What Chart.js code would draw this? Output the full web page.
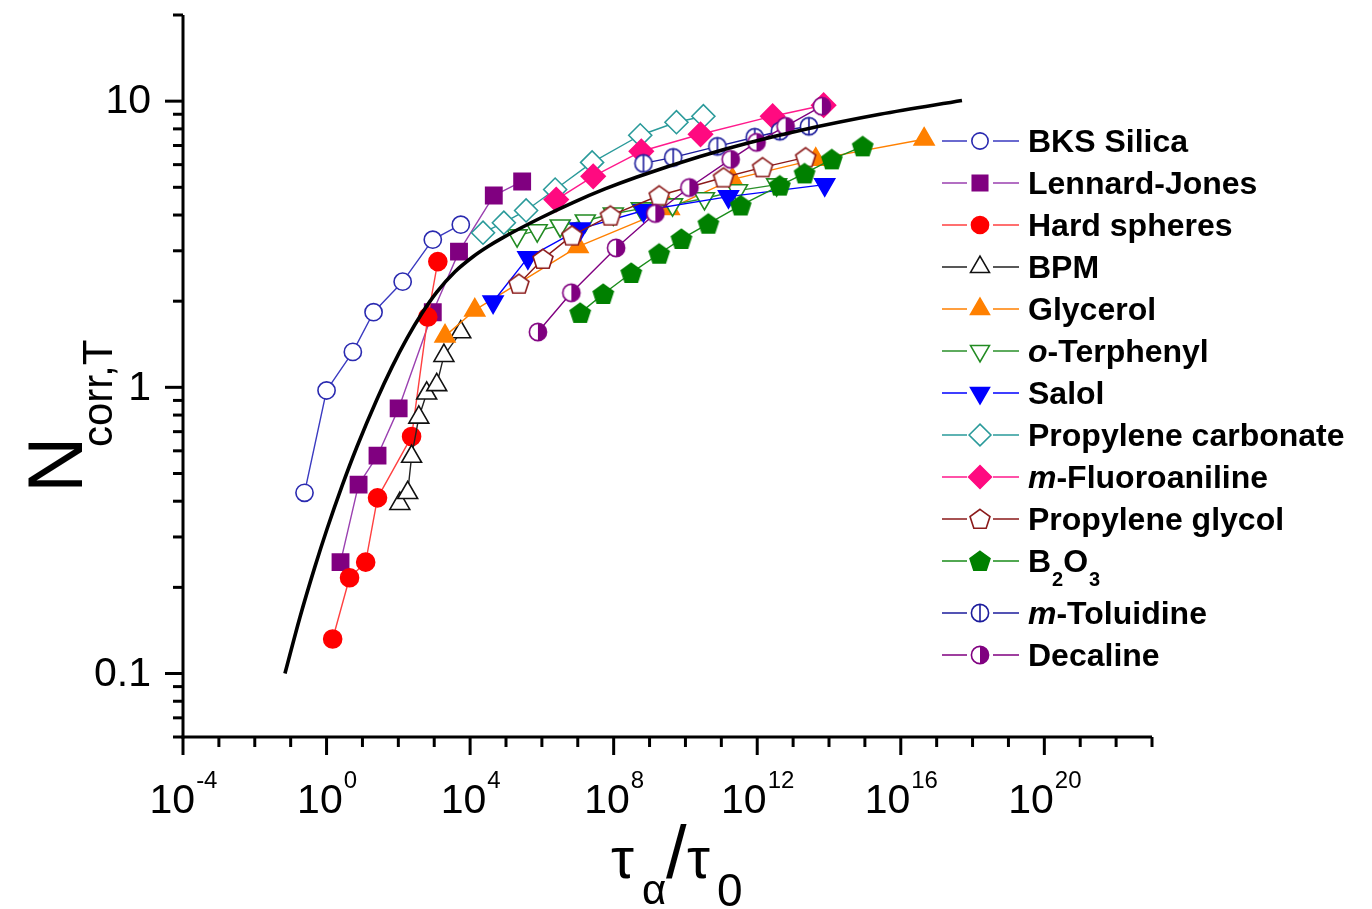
<!DOCTYPE html>
<html><head><meta charset="utf-8">
<script src="https://cdn.jsdelivr.net/npm/chart.js@4.4.0/dist/chart.umd.min.js"></script>
<style>html,body{margin:0;padding:0;background:#fff;}#wrap{width:1372px;height:909px;position:relative;}</style>
</head><body><div id="wrap"><canvas id="c" width="1372" height="909"></canvas></div>
<script>
// ---------------- data ----------------
const bksX = [0.243, 1.0, 5.4, 20.4, 132, 912, 5500];
const bksY = [0.428, 0.975, 1.33, 1.83, 2.34, 3.28, 3.70];
const ljX = [2.45, 7.8, 26.3, 102, 912, 4900, 4.57e4, 2.82e5];
const ljY = [0.245, 0.457, 0.577, 0.844, 1.83, 2.98, 4.68, 5.24];
const hsX = [1.48, 4.37, 12.3, 26.3, 234, 661, 1260];
const hsY = [0.132, 0.216, 0.245, 0.411, 0.673, 1.76, 2.75];
const bpmX = [110, 182, 234, 372, 617, 1175, 1862, 5500];
const bpmY = [0.392, 0.428, 0.573, 0.785, 0.953, 1.02, 1.29, 1.56];
const glyX = [2000, 1.35e4, 1.02e7, 3.55e9, 2.04e11, 4.27e13, 4.47e16];
const glyY = [1.51, 1.86, 3.10, 4.21, 5.33, 6.26, 7.36];
const otpX = [2.04e5, 7.41e5, 3.24e6, 1.62e7, 9.77e7, 5.89e8, 4.37e9, 3.39e10, 2.82e11, 3.47e12];
const otpY = [3.39, 3.53, 3.67, 3.82, 4.04, 4.21, 4.35, 4.57, 4.87, 5.11];
const salX = [4.37e4, 4.07e5, 1.17e7, 6.76e8, 1.58e11, 7.59e13];
const salY = [1.99, 2.84, 3.58, 4.15, 4.64, 5.11];
const pcX = [2.29e4, 8.71e4, 3.63e5, 2.34e6, 2.51e7, 5.50e8, 5.62e9, 3.16e10];
const pcY = [3.47, 3.76, 4.15, 4.91, 6.11, 7.60, 8.44, 8.86];
const mfX = [2.51e6, 2.69e7, 5.89e8, 2.63e10, 2.69e12, 7.08e13];
const mfY = [4.53, 5.46, 6.68, 7.66, 8.86, 9.68];
const pgX = [2.29e5, 1.07e6, 6.92e6, 8.13e7, 1.86e9, 1.15e11, 1.41e12, 2.24e13];
const pgY = [2.30, 2.81, 3.39, 3.98, 4.68, 5.41, 5.87, 6.36];
const b2o3X = [1.17e7, 5.13e7, 3.09e8, 1.86e9, 7.76e9, 4.37e10, 3.47e11, 4.27e12, 2.09e13, 1.20e14, 8.71e14];
const b2o3Y = [1.82, 2.12, 2.51, 2.93, 3.30, 3.73, 4.32, 5.07, 5.59, 6.26, 6.95];
const mtX = [6.76e8, 4.57e9, 7.76e10, 8.51e11, 4.27e12, 2.75e13];
const mtY = [6.06, 6.36, 6.95, 7.48, 7.85, 8.17];
const decX = [7.76e5, 6.61e6, 1.17e8, 1.45e9, 1.29e10, 1.82e11, 9.55e11, 6.17e12, 6.31e13];
const decY = [1.56, 2.14, 3.07, 4.05, 4.99, 6.26, 7.18, 8.17, 9.60];
const curveX = [0.0693, 0.1815, 0.475, 1.026, 2.69, 7.03, 25.4, 66.4, 173.8, 455, 1191, 3784, 1.20e4, 3.14e4, 8.22e4, 8.83e5, 7.35e6, 5.72e7, 4.46e8, 2.54e10, 6.27e11, 1.55e13, 2.63e15, 5.07e17];
const curveY = [0.100, 0.1573, 0.2363, 0.3192, 0.4516, 0.6201, 0.9087, 1.1766, 1.4823, 1.8139, 2.155, 2.535, 2.860, 3.105, 3.336, 3.898, 4.423, 4.935, 5.435, 6.410, 7.175, 7.903, 9.00, 10.05];

const xTickExponents = [-4, 0, 4, 8, 12, 16, 20];
const yTickValues = [0.1, 1, 10];
const yTickLabels = ['0.1', '1', '10'];

// ---------------- marker images ----------------
function makeCanvas(s){const c=document.createElement('canvas');c.width=s;c.height=s;return c;}
function pentagon(fill, stroke){
  const c=makeCanvas(24), g=c.getContext('2d'); const r=10.5, cx=12, cy=12.8;
  g.beginPath();
  for(let i=0;i<5;i++){const a=-Math.PI/2+i*2*Math.PI/5; const px=cx+r*Math.cos(a), py=cy+r*Math.sin(a); i?g.lineTo(px,py):g.moveTo(px,py);}
  g.closePath(); g.fillStyle=fill; g.fill(); g.lineWidth=1.6; g.strokeStyle=stroke; g.stroke(); return c;
}
function halfCircle(col){
  const c=makeCanvas(22), g=c.getContext('2d'); const r=8.6;
  g.beginPath(); g.arc(11,11,r,0,2*Math.PI); g.fillStyle='#fff'; g.fill();
  g.beginPath(); g.arc(11,11,r,-Math.PI/2,Math.PI/2); g.closePath(); g.fillStyle=col; g.fill();
  g.beginPath(); g.arc(11,11,r,0,2*Math.PI); g.lineWidth=1.6; g.strokeStyle=col; g.stroke(); return c;
}
function barCircle(col){
  const c=makeCanvas(22), g=c.getContext('2d'); const r=8.6;
  g.beginPath(); g.arc(11,11,r,0,2*Math.PI); g.fillStyle='#fff'; g.fill(); g.lineWidth=1.6; g.strokeStyle=col; g.stroke();
  g.beginPath(); g.moveTo(11,11-r); g.lineTo(11,11+r); g.stroke(); return c;
}

function pts(xs, ys){return xs.map((v,i)=>({x:v,y:ys[i]}));}

const series = [
  {label:'BKS Silica', x:bksX, y:bksY, line:'#3a3ac0', border:'#2a2ab0', bg:'#fff', style:'circle', r:8.6},
  {label:'Lennard-Jones', x:ljX, y:ljY, line:'#9a40b0', border:'#800080', bg:'#800080', style:'rect', r:11.5},
  {label:'Hard spheres', x:hsX, y:hsY, line:'#ff4040', border:'#ff0000', bg:'#ff0000', style:'circle', r:9},
  {label:'BPM', x:bpmX, y:bpmY, line:'#222', border:'#111', bg:'#fff', style:'triangle', r:11.5},
  {label:'Glycerol', x:glyX, y:glyY, line:'#ff8000', border:'#ff8000', bg:'#ff8000', style:'triangle', r:11.5},
  {label:'o-Terphenyl', x:otpX, y:otpY, line:'#2a902a', border:'#228b22', bg:'#fff', style:'triangle', r:11.5, rot:180},
  {label:'Salol', x:salX, y:salY, line:'#0000ff', border:'#0000ff', bg:'#0000ff', style:'triangle', r:11.5, rot:180},
  {label:'Propylene carbonate', x:pcX, y:pcY, line:'#2a9a9a', border:'#2a9a9a', bg:'#fff', style:'rectRot', r:11.5},
  {label:'m-Fluoroaniline', x:mfX, y:mfY, line:'#ff1a8c', border:'#ff0a80', bg:'#ff0a80', style:'rectRot', r:12},
  {label:'Propylene glycol', x:pgX, y:pgY, line:'#8b1a1a', border:'#8b1a1a', bg:'#fff', style:pentagon('#fff','#8b1a1a')},
  {label:'B2O3', x:b2o3X, y:b2o3Y, line:'#1a8c1a', border:'#008000', bg:'#008000', style:pentagon('#008000','#008000')},
  {label:'m-Toluidine', x:mtX, y:mtY, line:'#1c1c9c', border:'#1c1c9c', bg:'#fff', style:barCircle('#1c1c9c')},
  {label:'Decaline', x:decX, y:decY, line:'#800080', border:'#800080', bg:'#800080', style:halfCircle('#800080')}
];

const N = series.length;
const datasets = series.map((s,i)=>({
  label:s.label, data:pts(s.x,s.y), borderColor:s.line, borderWidth:1.4,
  pointStyle:s.style, pointRadius:s.r||10, pointHoverRadius:s.r||10, pointRotation:s.rot||0,
  pointBackgroundColor:s.bg, pointBorderColor:s.border, pointBorderWidth:1.6,
  showLine:true, fill:false, tension:0, order:N-i+1
}));
datasets.push({label:'model', data:pts(curveX,curveY), borderColor:'#000', borderWidth:3.6,
  pointRadius:0, showLine:true, fill:false, cubicInterpolationMode:'monotone', order:0});

const F = '"Liberation Sans", Arial, sans-serif';

const decor = {
  id:'decor',
  afterDraw(chart){
    const ctx=chart.ctx, a=chart.chartArea, xs=chart.scales.x, ys=chart.scales.y;
    ctx.save();
    ctx.strokeStyle='#000'; ctx.fillStyle='#000'; ctx.lineWidth=3; ctx.lineCap='butt';
    // axis lines
    ctx.beginPath(); ctx.moveTo(a.left, a.top); ctx.lineTo(a.left, a.bottom+1.5); ctx.stroke();
    ctx.beginPath(); ctx.moveTo(a.left-1.5, a.bottom); ctx.lineTo(a.right, a.bottom); ctx.stroke();
    // x ticks (every decade)
    const eMin=Math.round(Math.log10(xs.min)), eMax=Math.round(Math.log10(xs.max));
    for(let e=eMin;e<=eMax;e++){
      const px=xs.getPixelForValue(Math.pow(10,e)); const major=xTickExponents.includes(e);
      ctx.beginPath(); ctx.moveTo(px,a.bottom); ctx.lineTo(px,a.bottom+(major?18:10)); ctx.stroke();
    }
    // y ticks
    const dMin=Math.floor(Math.log10(ys.min)), dMax=Math.ceil(Math.log10(ys.max));
    for(let d=dMin; d<=dMax; d++){
      for(let m=1;m<=9;m++){
        const v=m*Math.pow(10,d); if(v<ys.min*0.999||v>ys.max*1.001) continue;
        const py=ys.getPixelForValue(v); const major=(m===1);
        ctx.beginPath(); ctx.moveTo(a.left,py); ctx.lineTo(a.left-(major?18:10),py); ctx.stroke();
      }
    }
    // y labels
    ctx.font='41px '+F; ctx.textAlign='right'; ctx.textBaseline='middle';
    yTickValues.forEach((v,i)=>{ctx.fillText(yTickLabels[i], 151, ys.getPixelForValue(v)+1);});
    // x labels
    ctx.textBaseline='alphabetic';
    xTickExponents.forEach(e=>{
      const px=xs.getPixelForValue(Math.pow(10,e));
      ctx.font='41px '+F; const w1=ctx.measureText('10').width;
      ctx.font='24px '+F; const sup=String(e); const w2=ctx.measureText(sup).width;
      const x0=px-(w1+w2)/2;
      ctx.font='41px '+F; ctx.textAlign='left'; ctx.fillText('10', x0, 813);
      ctx.font='24px '+F; ctx.fillText(sup, x0+w1+1, 788);
    });
    // x title
    ctx.textAlign='left';
    ctx.font='58px '+F; ctx.fillText('\u03C4', 611, 878);
    ctx.font='42px '+F; ctx.fillText('\u03B1', 642, 904);
    ctx.font='74px '+F; ctx.fillText('/', 666, 878);
    ctx.font='58px '+F; ctx.fillText('\u03C4', 687, 878);
    ctx.font='46px '+F; ctx.fillText('0', 717, 906);
    // y title
    ctx.save(); ctx.translate(82, 493); ctx.rotate(-Math.PI/2);
    ctx.font='78px '+F; ctx.fillText('N', 0, 0);
    ctx.font='42px '+F; ctx.fillText('corr,T', 46, 30);
    ctx.restore();
    // legend
    const rows=[141,183,225,267,309,351,393,435,477,519,561,613,655];
    const H=Chart.helpers;
    series.forEach((s,i)=>{
      const y=rows[i];
      ctx.strokeStyle=s.line; ctx.lineWidth=1.4;
      ctx.beginPath(); ctx.moveTo(942,y); ctx.lineTo(967,y); ctx.moveTo(993,y); ctx.lineTo(1019,y); ctx.stroke();
      ctx.fillStyle=s.bg; ctx.strokeStyle=s.border; ctx.lineWidth=1.6;
      H.drawPoint(ctx,{pointStyle:s.style, radius:(s.r||10)*0.95, rotation:s.rot||0, borderWidth:1.6}, 980, y);
      ctx.fillStyle='#000'; ctx.textAlign='left'; ctx.textBaseline='alphabetic';
      const base=y+11; let x=1028;
      const bold='bold 32px '+F, ital='italic bold 32px '+F;
      if(s.label==='B2O3'){
        ctx.font=bold; ctx.fillText('B',x,base); x+=ctx.measureText('B').width;
        ctx.font='bold 20px '+F; ctx.fillText('2',x+1,base+14); x+=ctx.measureText('2').width+1;
        ctx.font=bold; ctx.fillText('O',x,base); x+=ctx.measureText('O').width;
        ctx.font='bold 20px '+F; ctx.fillText('3',x+1,base+14);
      } else if(/^[mo]-/.test(s.label)){
        ctx.font=ital; const p=s.label[0]; ctx.fillText(p,x,base); x+=ctx.measureText(p).width;
        ctx.font=bold; ctx.fillText(s.label.slice(1),x,base);
      } else { ctx.font=bold; ctx.fillText(s.label,x,base); }
    });
    ctx.restore();
  }
};

new Chart(document.getElementById('c'), {
  type:'line',
  data:{datasets},
  options:{
    responsive:false, animation:false, devicePixelRatio:1,
    layout:{padding:{left:183, right:1372-1152, top:15, bottom:909-737}},
    plugins:{legend:{display:false}, tooltip:{enabled:false}},
    scales:{
      x:{type:'logarithmic', min:1e-4, max:1e23, display:false},
      y:{type:'logarithmic', min:0.06, max:20, display:false}
    },
    elements:{line:{borderJoinStyle:'round'}},
    clip:false
  },
  plugins:[decor]
});
</script></body></html>
